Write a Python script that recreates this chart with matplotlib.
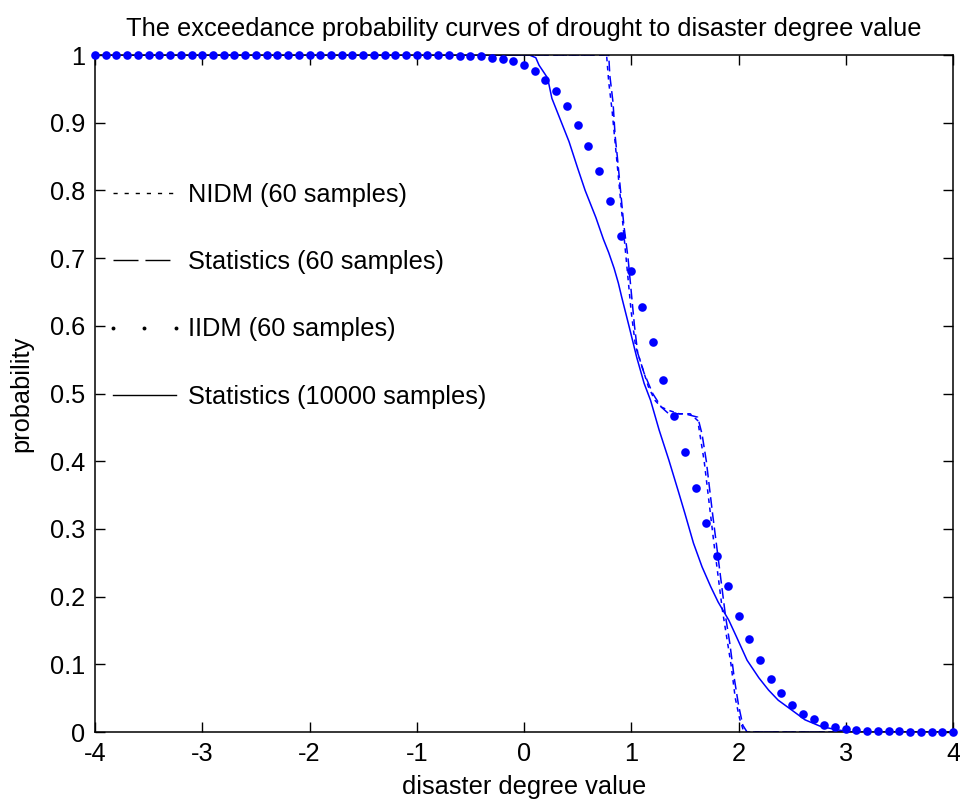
import numpy as np
import matplotlib
matplotlib.use("Agg")
import matplotlib.pyplot as plt
from matplotlib.lines import Line2D
from matplotlib.ticker import FuncFormatter

plt.rcParams['font.family'] = ['Liberation Sans', 'DejaVu Sans']
plt.rcParams['axes.unicode_minus'] = False

# ---------------- data ----------------
iidm_x = np.linspace(-4.0, 4.0, 81)
iidm_y = [1.0, 1.0, 1.0, 1.0, 1.0, 1.0, 1.0, 1.0, 1.0, 1.0,
          1.0, 1.0, 1.0, 1.0, 1.0, 1.0, 1.0, 1.0, 1.0, 1.0,
          1.0, 1.0, 1.0, 1.0, 1.0, 1.0, 1.0, 1.0, 1.0, 1.0,
          1.0, 1.0, 1.0, 1.0, 0.999, 0.999, 0.998,
          0.996, 0.994, 0.991, 0.985, 0.976, 0.963, 0.947, 0.924, 0.897, 0.866,
          0.828, 0.784, 0.733, 0.681, 0.628, 0.576, 0.520, 0.467, 0.413, 0.361,
          0.309, 0.260, 0.216, 0.171, 0.137, 0.107, 0.078, 0.058, 0.040, 0.027,
          0.019, 0.010, 0.007, 0.004, 0.003, 0.002,
          0.001, 0.001, 0.001, 0.0, 0.0, 0.0, 0.0, 0.0]

stat10000_x = [-4.0, 0.05, 0.11, 0.14, 0.22, 0.26, 0.34, 0.42, 0.50, 0.57, 0.67, 0.74,
               0.79, 0.84, 0.88, 0.91, 0.98, 1.05, 1.12, 1.18, 1.26, 1.35, 1.44, 1.50,
               1.58, 1.66, 1.74, 1.81, 1.91, 1.98, 2.08, 2.19, 2.28, 2.37, 2.50, 2.62,
               2.77, 2.93, 3.05, 4.0]
stat10000_y = [1.0, 1.0, 0.996, 0.985, 0.966, 0.936, 0.904, 0.872, 0.833, 0.800, 0.760, 0.728,
               0.708, 0.685, 0.663, 0.643, 0.599, 0.554, 0.515, 0.490, 0.446, 0.402, 0.355, 0.323,
               0.279, 0.244, 0.215, 0.192, 0.165, 0.141, 0.106, 0.080, 0.062, 0.047, 0.032, 0.018,
               0.008, 0.003, 0.0, 0.0]

stat60_x = [-4.0, 0.79, 0.80, 0.83, 0.85, 0.87, 0.90, 0.93, 0.97, 1.00, 1.03, 1.06, 1.12,
            1.20, 1.28, 1.35, 1.50, 1.62, 1.66, 1.70, 1.73, 1.76, 1.80, 1.84, 1.88, 1.92,
            1.96, 2.00, 2.04, 2.08, 2.12, 4.0]
stat60_y = [1.0, 1.0, 0.97, 0.93, 0.88, 0.85, 0.80, 0.75, 0.70, 0.65, 0.60, 0.56, 0.53,
            0.50, 0.48, 0.47, 0.47, 0.465, 0.44, 0.40, 0.36, 0.32, 0.27, 0.22, 0.17, 0.13,
            0.08, 0.04, 0.01, 0.0, 0.0, 0.0]

nidm_x = [-4.0, 0.77, 0.79, 0.82, 0.85, 0.88, 0.91, 0.94, 0.97, 1.00, 1.04, 1.10, 1.16,
          1.22, 1.28, 1.35, 1.45, 1.55, 1.62, 1.65, 1.68, 1.71, 1.74, 1.77, 1.81, 1.85,
          1.89, 1.93, 1.97, 2.01, 2.05, 4.0]
nidm_y = [1.0, 1.0, 0.96, 0.92, 0.87, 0.82, 0.77, 0.72, 0.67, 0.62, 0.57, 0.54, 0.51,
          0.49, 0.48, 0.475, 0.47, 0.47, 0.46, 0.43, 0.40, 0.36, 0.32, 0.28, 0.23, 0.18,
          0.14, 0.10, 0.05, 0.02, 0.0, 0.0]

labels = ["NIDM (60 samples)", "Statistics (60 samples)",
          "IIDM (60 samples)", "Statistics (10000 samples)"]
x_ticks = [-4, -3, -2, -1, 0, 1, 2, 3, 4]
y_ticks = [0, 0.1, 0.2, 0.3, 0.4, 0.5, 0.6, 0.7, 0.8, 0.9, 1.0]

# ---------------- figure ----------------
FS = 18.3
blue = (0, 0, 1)
fig = plt.figure(figsize=(9.6, 8.0), dpi=100)
ax = fig.add_axes([95/960, 1-732/800, 858/960, 677/800])

ax.plot(nidm_x, nidm_y, color=blue, lw=1.1, linestyle=(0, (3, 3)))
ax.plot(stat60_x, stat60_y, color=blue, lw=1.1, linestyle=(0, (7, 3)))
ax.plot(iidm_x, iidm_y, linestyle='None', marker='o', ms=6.2, color=blue,
        markeredgewidth=0, clip_on=False, zorder=3)
ax.plot(stat10000_x, stat10000_y, color=blue, lw=1.1)

ax.set_xlim(-4, 4)
ax.set_ylim(0, 1)
ax.set_xticks(x_ticks)
ax.set_yticks(y_ticks)
ax.yaxis.set_major_formatter(FuncFormatter(lambda v, p: ('%g' % round(v, 1))))
ax.tick_params(direction='in', length=7, width=1, top=True, right=True,
               labelsize=FS, pad=7, colors='black')
for s in ax.spines.values():
    s.set_linewidth(1.1)

ax.set_title("The exceedance probability curves of drought to disaster degree value",
             fontsize=FS, pad=14)
ax.set_xlabel("disaster degree value", fontsize=FS, labelpad=7)
ax.set_ylabel("probability", fontsize=FS, labelpad=12)

handles = [
    Line2D([], [], color='k', lw=1.0, linestyle=(0, (3, 5))),
    Line2D([], [], color='k', lw=1.0, linestyle=(0, (18, 5))),
    Line2D([], [], color='k', linestyle='None', marker='o', ms=2.8, markeredgewidth=0),
    Line2D([], [], color='k', lw=1.0),
]
leg = ax.legend(handles, labels, loc='upper left',
                bbox_to_anchor=((105-95)/858, (732-183)/677),
                frameon=False, fontsize=FS, numpoints=3,
                handlelength=3.1, handletextpad=0.18, labelspacing=1.70,
                borderpad=0, borderaxespad=0)

fig.savefig("out.png", dpi=100)
